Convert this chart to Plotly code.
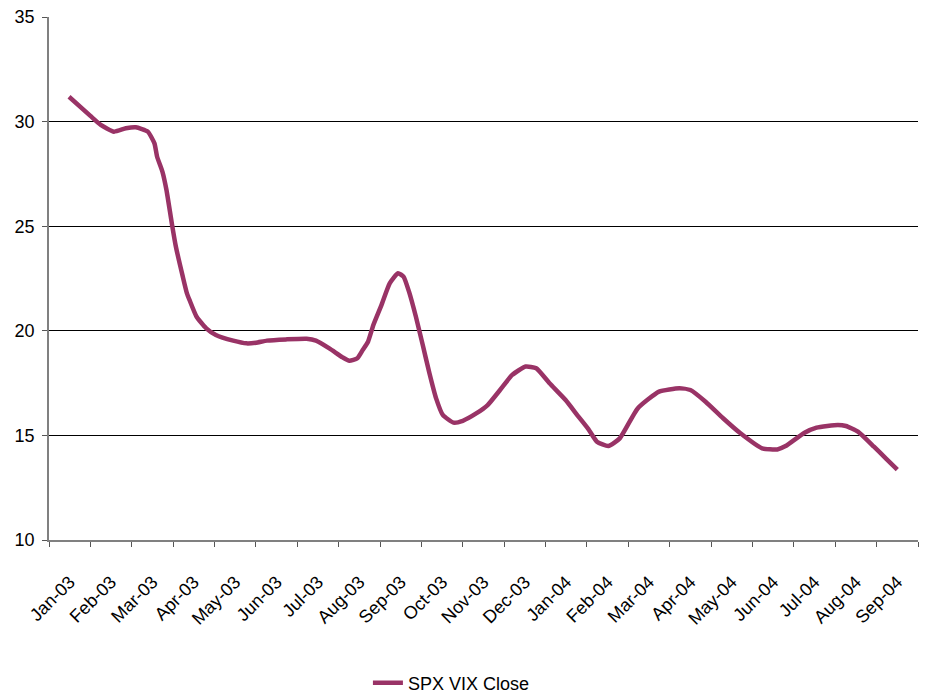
import pandas as pd
import plotly.graph_objects as go

# SPX VIX close, smoothed series (date, level)
dates = [
    "2003-01-16", "2003-02-01", "2003-02-08", "2003-02-17", "2003-02-25",
    "2003-03-04", "2003-03-13", "2003-03-18", "2003-03-20", "2003-03-24",
    "2003-03-27", "2003-03-31", "2003-04-03", "2003-04-08", "2003-04-11",
    "2003-04-13", "2003-04-18", "2003-04-25", "2003-05-02", "2003-05-15",
    "2003-05-25", "2003-06-01", "2003-06-09", "2003-06-23", "2003-07-08",
    "2003-07-15", "2003-07-25", "2003-08-04", "2003-08-09", "2003-08-15",
    "2003-08-19", "2003-08-23", "2003-08-27", "2003-09-02", "2003-09-08",
    "2003-09-14", "2003-09-18", "2003-09-22", "2003-09-27", "2003-10-02",
    "2003-10-07", "2003-10-12", "2003-10-17", "2003-10-25", "2003-11-01",
    "2003-11-11", "2003-11-19", "2003-11-28", "2003-12-07", "2003-12-17",
    "2003-12-25", "2004-01-04", "2004-01-16", "2004-01-25", "2004-02-02",
    "2004-02-08", "2004-02-16", "2004-02-24", "2004-03-08", "2004-03-24",
    "2004-04-08", "2004-04-16", "2004-04-27", "2004-05-10", "2004-05-23",
    "2004-06-08", "2004-06-19", "2004-06-25", "2004-07-09", "2004-07-18",
    "2004-08-03", "2004-08-09", "2004-08-18", "2004-08-30", "2004-09-08",
    "2004-09-16",
]
vix_close = [
    31.19, 30.27, 29.84, 29.52, 29.68,
    29.73, 29.52, 28.96, 28.32, 27.60,
    26.73, 25.14, 24.02, 22.59, 21.79,
    21.45, 20.67, 20.12, 19.80, 19.53,
    19.40, 19.43, 19.53, 19.59, 19.62,
    19.53, 19.16, 18.73, 18.57, 18.69,
    19.08, 19.48, 20.28, 21.23, 22.27,
    22.75, 22.59, 21.87, 20.67, 19.32,
    17.97, 16.77, 15.98, 15.61, 15.70,
    16.06, 16.45, 17.17, 17.89, 18.29,
    18.21, 17.49, 16.69, 15.95, 15.30,
    14.70, 14.49, 14.86, 16.29, 17.09,
    17.25, 17.17, 16.61, 15.82, 15.10,
    14.38, 14.33, 14.49, 15.13, 15.37,
    15.50, 15.45, 15.18, 14.46, 13.88,
    13.36,
]
month_labels = [
    "Jan-03", "Feb-03", "Mar-03", "Apr-03", "May-03", "Jun-03", "Jul-03",
    "Aug-03", "Sep-03", "Oct-03", "Nov-03", "Dec-03", "Jan-04", "Feb-04",
    "Mar-04", "Apr-04", "May-04", "Jun-04", "Jul-04", "Aug-04", "Sep-04",
]

# Position each date on an axis where every month has equal width
d = pd.to_datetime(pd.Series(dates))
month_pos = ((d.dt.year - 2003) * 12 + (d.dt.month - 1)
             + (d.dt.day - 1) / d.dt.days_in_month).tolist()

n_months = len(month_labels)
font = dict(family="Liberation Sans, Arial, sans-serif", size=18, color="#000000")
line_color = "#993366"

fig = go.Figure()
fig.add_trace(go.Scatter(
    x=month_pos, y=vix_close, mode="lines", name="SPX VIX Close",
    line=dict(color=line_color, width=4.5, shape="spline", smoothing=0.5),
))
# carrier for the centred month labels
fig.add_trace(go.Scatter(
    x=[0.5, n_months - 0.5], y=[None, None], xaxis="x2", mode="lines",
    showlegend=False, hoverinfo="skip",
))

fig.update_layout(
    width=926, height=696,
    margin=dict(l=49, r=8, t=17, b=156, autoexpand=False),
    paper_bgcolor="#ffffff", plot_bgcolor="#ffffff",
    font=font,
    showlegend=True,
    legend=dict(
        orientation="h", x=0.367, xanchor="left",
        yref="container", y=13 / 696, yanchor="middle",
        font=font, bgcolor="rgba(0,0,0,0)",
    ),
    xaxis=dict(
        range=[0, n_months], tickmode="array", tickvals=list(range(n_months + 1)),
        showticklabels=False, ticks="outside", ticklen=5, tickcolor="#555555",
        showline=True, linecolor="#808080", linewidth=1.5,
        showgrid=False, zeroline=False, automargin=False,
    ),
    xaxis2=dict(
        overlaying="x", anchor="y", side="bottom", range=[0, n_months],
        tickmode="array", tickvals=[i + 0.5 for i in range(n_months)],
        ticktext=month_labels, tickangle=-45, ticks="", tickfont=font,
        ticklabelstandoff=27, automargin=False,
        showline=False, showgrid=False, zeroline=False,
    ),
    yaxis=dict(
        range=[10, 35], tickmode="linear", tick0=10, dtick=5,
        ticks="outside", ticklen=5, tickcolor="#555555", tickfont=font,
        ticklabelstandoff=4, automargin=False,
        showline=True, linecolor="#808080", linewidth=1.5,
        showgrid=True, gridcolor="#000000", gridwidth=1, zeroline=False,
    ),
)

fig.write_html("out.html")
